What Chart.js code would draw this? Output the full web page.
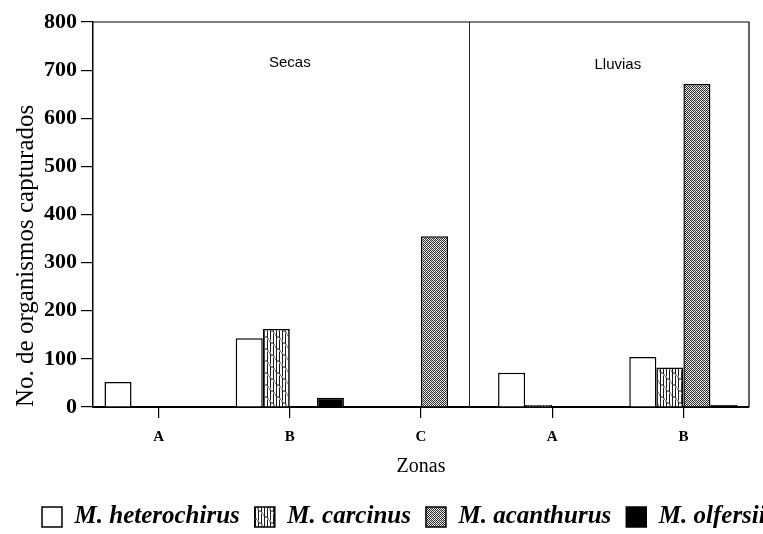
<!DOCTYPE html>
<html>
<head>
<meta charset="utf-8">
<script src="https://cdn.jsdelivr.net/npm/chart.js@4.4.1/dist/chart.umd.min.js"></script>
<style>
  html, body { margin: 0; padding: 0; background: #fff; }
  #wrap { width: 763px; height: 534px; }
</style>
</head>
<body>
<div id="wrap"><canvas id="c" width="763" height="534"></canvas></div>
<script>
// ---- data ----
const zonas = ['A', 'B', 'C', 'A', 'B'];
const temporadas = ['Secas', 'Lluvias'];
const especies = ['M. heterochirus', 'M. carcinus', 'M. acanthurus', 'M. olfersii'];
const heterochirus = [52, 143, 0, 71, 104];
const carcinus = [0, 162, 0, 4, 82];
const acanthurus = [0, 0, 355, 0, 671];
const olfersii = [0, 19, 0, 0, 4];
const yTicks = [0, 100, 200, 300, 400, 500, 600, 700, 800];

const SERIF = "'Liberation Serif', 'Times New Roman', serif";
const SANS = "'Liberation Sans', Arial, sans-serif";

function makePattern(kind) {
  const c = document.createElement('canvas');
  const g = c.getContext('2d');
  if (kind === 'carcinus') {
    c.width = 12; c.height = 12;
    g.fillStyle = '#fff'; g.fillRect(0, 0, 12, 12);
    g.fillStyle = '#1a1a1a';
    for (let x = 0; x < 12; x += 3) g.fillRect(x, 0, 1, 12);
    g.fillStyle = '#8a8a8a';
    for (let y = 0; y < 12; y++) {
      const x = Math.floor(y / 2) * 2 % 12;
      g.fillRect(x + 1, y, 2, 1);
    }
  } else {
    c.width = 4; c.height = 4;
    g.fillStyle = '#fff'; g.fillRect(0, 0, 4, 4);
    for (let y = 0; y < 4; y++) for (let x = 0; x < 4; x++) {
      if ((x + y) % 2 === 0) { g.fillStyle = '#2a2a2a'; g.fillRect(x, y, 1, 1); }
    }
    g.fillStyle = '#bbb'; g.fillRect(1, 2, 1, 1); g.fillRect(3, 0, 1, 1);
  }
  return c.getContext('2d').createPattern(c, 'repeat');
}

const fills = ['#ffffff', makePattern('carcinus'), makePattern('acanthurus'), '#000000'];
const series = [heterochirus, carcinus, acanthurus, olfersii];

const datasets = especies.map((name, i) => ({
  label: name,
  data: series[i],
  backgroundColor: fills[i],
  borderColor: '#000',
  borderWidth: 1.5,
  borderSkipped: 'bottom',
  categoryPercentage: 0.825,
  barPercentage: 1.0
}));

const framePlugin = {
  id: 'frame',
  afterLayout(chart) {
    const lg = chart.legend;
    if (lg) { lg.left += 27; lg.right += 27; }
  },
  afterDatasetsDraw(chart) {
    const { ctx, chartArea: a, scales: { x } } = chart;
    ctx.save();
    ctx.strokeStyle = '#000';
    ctx.lineWidth = 1.2;
    ctx.beginPath();
    ctx.moveTo(a.left, a.top); ctx.lineTo(a.right, a.top); ctx.lineTo(a.right, a.bottom);
    ctx.stroke();
    const xd = Math.round(x.getPixelForValue(2.366)) + 0.5;
    ctx.strokeStyle = '#222';
    ctx.lineWidth = 1;
    ctx.beginPath(); ctx.moveTo(xd, a.top); ctx.lineTo(xd, a.bottom); ctx.stroke();
    ctx.fillStyle = '#000';
    ctx.font = '15px ' + SANS;
    ctx.textAlign = 'center';
    ctx.textBaseline = 'middle';
    ctx.fillText(temporadas[0], x.getPixelForValue(1), a.top + 41);
    ctx.fillText(temporadas[1], x.getPixelForValue(3.5), a.top + 43);
    ctx.restore();
  }
};

new Chart(document.getElementById('c'), {
  type: 'bar',
  data: { labels: zonas, datasets },
  options: {
    responsive: false,
    animation: false,
    layout: { padding: { top: 22, right: 0, left: 0, bottom: -5.5 } },
    plugins: {
      legend: {
        position: 'bottom',
        align: 'start',
        labels: {
          boxWidth: 20, boxHeight: 20, padding: 15, color: '#000',
          font: { family: SERIF, size: 25, style: 'italic', weight: 'bold' }
        }
      },
      tooltip: { enabled: false }
    },
    scales: {
      x: {
        offset: true,
        grid: { display: true, drawOnChartArea: false, drawTicks: true, tickLength: 11, offset: false, color: '#000', lineWidth: 1.2 },
        border: { display: true, color: '#000', width: 2 },
        ticks: { font: { family: SERIF, size: 15, weight: 'bold' }, color: '#000', padding: 10, maxRotation: 0, autoSkip: false },
        title: { display: true, text: 'Zonas', color: '#000', font: { family: SERIF, size: 20 }, padding: { top: 0, bottom: 10.5 } },
        afterFit(s) { s.height = 82.5; }
      },
      y: {
        min: 0, max: 800,
        afterBuildTicks(s) { s.ticks = yTicks.map(v => ({ value: v })); },
        grid: { display: true, drawOnChartArea: false, drawTicks: true, tickLength: 12, color: '#000', lineWidth: 1.2 },
        border: { display: true, color: '#000', width: 1.5 },
        ticks: { font: { family: SERIF, size: 22, weight: 'bold' }, color: '#000', padding: 4 },
        title: { display: true, align: 'start', text: 'No. de organismos capturados', color: '#000', font: { family: SERIF, size: 25 }, padding: { top: 11, bottom: 0 } },
        afterFit(s) { s.width = 93; }
      },
      yRight: {
        type: 'linear',
        position: 'right',
        display: true,
        grid: { display: false },
        border: { display: false },
        ticks: { display: false },
        afterFit(s) { s.width = 14; }
      }
    }
  },
  plugins: [framePlugin]
});
</script>
</body>
</html>
